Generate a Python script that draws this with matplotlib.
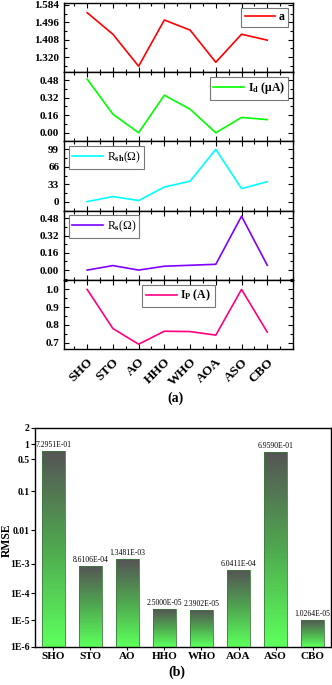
import matplotlib
matplotlib.use('Agg')
import matplotlib.pyplot as plt
import numpy as np
from matplotlib.ticker import AutoMinorLocator, FixedLocator
from matplotlib.colors import LinearSegmentedColormap

plt.rcParams['font.family'] = 'Liberation Serif'
plt.rcParams['font.weight'] = 'bold'
plt.rcParams['mathtext.fontset'] = 'custom'
plt.rcParams['mathtext.rm'] = 'Liberation Serif'
plt.rcParams['mathtext.it'] = 'Liberation Serif'
plt.rcParams['mathtext.bf'] = 'Liberation Serif:bold'

# Datos
cats = ['SHO', 'STO', 'AO', 'HHO', 'WHO', 'AOA', 'ASO', 'CBO']
a_vals = [1.545, 1.436, 1.274, 1.508, 1.457, 1.294, 1.436, 1.406]
id_vals = [0.49, 0.17, 0.0, 0.343, 0.215, 0.0, 0.14, 0.12]
rsh_vals = [0.5, 10, 2.5, 28, 39, 99, 25, 38]
rs_vals = [0.0, 0.042, 0.0, 0.036, 0.045, 0.054, 0.50, 0.045]
ip_vals = [1.0, 0.78, 0.692, 0.765, 0.763, 0.743, 1.0, 0.76]
rmse = [7.2951e-01, 8.6106e-04, 1.3481e-03, 2.5000e-05,
        2.3902e-05, 6.0411e-04, 6.9590e-01, 1.0264e-05]

fig = plt.figure(figsize=(3.32, 6.85), dpi=100)

# -----------------------------------------------------------------------------
# (a) paneles apilados
# -----------------------------------------------------------------------------
gs = fig.add_gridspec(5, 1, left=0.1928, right=0.8825, top=0.9956, bottom=0.4905, hspace=0)
x = np.arange(len(cats))

panels = [
    (a_vals, '#ff0000', r'a', (1.2437, 1.594), [1.320, 1.408, 1.496, 1.584], '%.3f', 'upper right'),
    (id_vals, '#00ff00', r'I$_{\mathbf{d}}$ (μA)', (-0.079, 0.553), [0.0, 0.16, 0.32, 0.48], '%.2f', 'upper right'),
    (rsh_vals, '#00ffff', r'R$_{\mathrm{sh}}$(Ω)', (-16.5, 114), [0, 33, 66, 99], '%d', 'upper left'),
    (rs_vals, '#8000ff', r'R$_{\mathrm{s}}$(Ω)', (-0.09, 0.552), [0.0, 0.16, 0.32, 0.48], '%.2f', 'upper left'),
    (ip_vals, '#ff0080', r'I$_{\mathbf{P}}$ (A)', (0.665, 1.054), [0.7, 0.8, 0.9, 1.0], '%.1f', 'upper center'),
]

axes = []
for i, (vals, col, lab, ylim, yt, fmt, loc) in enumerate(panels):
    ax = fig.add_subplot(gs[i], sharex=axes[0] if axes else None)
    ax.plot(x, vals, color=col, linewidth=1.2, label=lab)
    ax.set_ylim(*ylim)
    ax.set_yticks(yt)
    ax.set_yticklabels([fmt % v for v in yt])
    ax.yaxis.set_minor_locator(AutoMinorLocator(2))
    ax.set_xlim(-0.9, 8.0)
    ax.set_xticks(x)
    ax.xaxis.set_minor_locator(AutoMinorLocator(2))
    ax.tick_params(which='both', direction='in', top=True, right=True, labelsize=8)
    ax.tick_params(which='major', length=3.5, width=0.8)
    ax.tick_params(which='minor', length=2, width=0.8)
    for s in ax.spines.values():
        s.set_linewidth(1.0)
    w = 'bold' if i in (0, 1, 4) else 'normal'
    leg = ax.legend(loc=loc, fancybox=False, edgecolor='#777777', framealpha=1,
                    handlelength=2.6, handletextpad=0.3, borderpad=0.3, borderaxespad=0.4,
                    prop={'size': 8.5, 'weight': w})
    leg.get_frame().set_linewidth(0.8)
    if i < 4:
        ax.tick_params(labelbottom=False)
    axes.append(ax)

axes[-1].set_xticklabels(cats, rotation=45, ha='right', rotation_mode='anchor', fontsize=9.5)
axes[-1].tick_params(axis='x', pad=5)
fig.text(0.53, 1 - 398 / 685, '(a)', ha='center', va='center', fontsize=10, fontweight='bold')

# -----------------------------------------------------------------------------
# (b) barras RMSE con escala tipo log (no uniforme, como el original)
# -----------------------------------------------------------------------------
k_log = np.array([-12, -6, -5, -4, -3, -2, -1, np.log10(0.5), 0, np.log10(2), 1])
k_pos = np.array([-160, 0, 26.7, 53.7, 83, 116.7, 155.7, 187.7, 202.7, 219, 273])


def fwd(v):
    v = np.clip(np.asarray(v, dtype=float), 1e-12, None)
    return np.interp(np.log10(v), k_log, k_pos)


def inv(p):
    return 10 ** np.interp(np.asarray(p, dtype=float), k_pos, k_log)


axb = fig.add_axes([0.1054, 0.0559, 0.997 - 0.1054, 0.3756 - 0.0559])
axb.set_yscale('function', functions=(fwd, inv))
axb.set_ylim(1e-6, 2)
axb.set_xlim(-0.5, 7.5)

cmap = LinearSegmentedColormap.from_list('g', ['#5cff5c', '#4fa84f', '#555555'])
bw = 0.6
for i, v in enumerate(rmse):
    ye = inv(np.linspace(fwd(1e-6), fwd(v), 60))
    xe = np.array([i - bw / 2, i + bw / 2])
    c = np.linspace(0, 1, 59).reshape(-1, 1)
    axb.pcolormesh(xe, ye, c, cmap=cmap, shading='flat', zorder=2)
    axb.bar(i, v - 1e-6, bottom=1e-6, width=bw, fill=False, edgecolor='#3c7a3c', linewidth=0.6, zorder=3)
    axb.annotate(f'{v:.4E}', (i, v), xytext=(0, 1.5), textcoords='offset points',
                 ha='center', va='bottom', fontsize=5.5, fontweight='normal')

yt_b = [1e-6, 1e-5, 1e-4, 1e-3, 0.01, 0.1, 0.5, 1, 2]
yl_b = ['1E-6', '1E-5', '1E-4', '1E-3', '0.01', '0.1', '0.5', '1', '2']
axb.yaxis.set_major_locator(FixedLocator(yt_b))
axb.set_yticklabels(yl_b)
axb.yaxis.set_minor_locator(FixedLocator([]))
axb.set_xticks(range(len(cats)))
axb.set_xticklabels(cats)
axb.tick_params(axis='y', labelsize=7, length=3, pad=1, direction='out')
axb.tick_params(axis='x', labelsize=8, length=2.5, pad=1.5, direction='out')
for s in axb.spines.values():
    s.set_linewidth(1.0)

fig.text(7 / 332, 1 - 540 / 685, 'RMSE', rotation=90, ha='center', va='center',
         fontsize=8.5, fontweight='bold')
fig.text(0.533, 1 - 672 / 685, '(b)', ha='center', va='center', fontsize=10, fontweight='bold')

fig.savefig('out.png', dpi=100)
